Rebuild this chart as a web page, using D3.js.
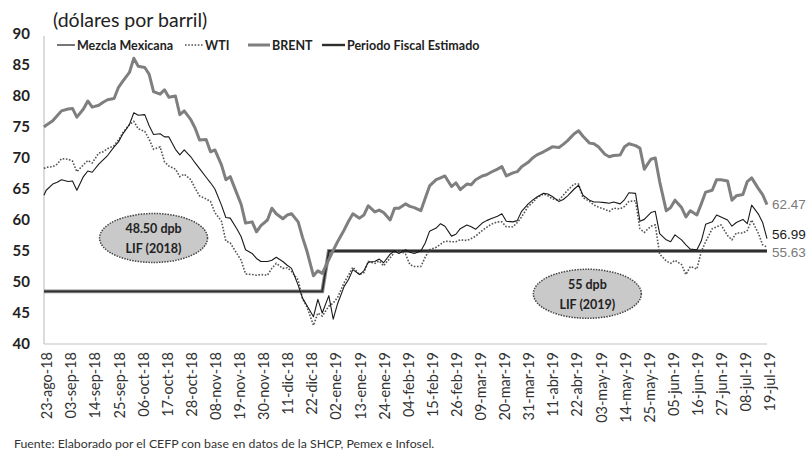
<!DOCTYPE html>
<html>
<head>
<meta charset="utf-8">
<script src="https://cdn.jsdelivr.net/npm/d3@7"></script>
<style>
  body { margin: 0; background: #fff; }
  text { font-family: Lato, "Open Sans", sans-serif; }
</style>
</head>
<body>
<div id="chart"></div>
<script>
var width = 807;
var height = 455;

// fechas (lun/mie/vie) y precios en dolares por barril
var dates = [
  "2018-08-23","2018-08-24","2018-08-27","2018-08-29","2018-08-31",
  "2018-09-03","2018-09-05","2018-09-07","2018-09-10","2018-09-12","2018-09-14","2018-09-17","2018-09-19","2018-09-21","2018-09-24","2018-09-26","2018-09-28",
  "2018-10-01","2018-10-03","2018-10-05","2018-10-08","2018-10-10","2018-10-12","2018-10-15","2018-10-17","2018-10-19","2018-10-22","2018-10-24","2018-10-26","2018-10-29","2018-10-31",
  "2018-11-02","2018-11-05","2018-11-07","2018-11-09","2018-11-12","2018-11-14","2018-11-16","2018-11-19","2018-11-21","2018-11-23","2018-11-26","2018-11-28","2018-11-30",
  "2018-12-03","2018-12-05","2018-12-07","2018-12-10","2018-12-12","2018-12-14","2018-12-17","2018-12-19","2018-12-21","2018-12-24","2018-12-26","2018-12-28","2018-12-31",
  "2019-01-02","2019-01-04","2019-01-07","2019-01-09","2019-01-11","2019-01-14","2019-01-16","2019-01-18","2019-01-21","2019-01-23","2019-01-25","2019-01-28","2019-01-30",
  "2019-02-01","2019-02-04","2019-02-06","2019-02-08","2019-02-11","2019-02-13","2019-02-15","2019-02-18","2019-02-20","2019-02-22","2019-02-25","2019-02-27",
  "2019-03-01","2019-03-04","2019-03-06","2019-03-08","2019-03-11","2019-03-13","2019-03-15","2019-03-18","2019-03-20","2019-03-22","2019-03-25","2019-03-27","2019-03-29",
  "2019-04-01","2019-04-03","2019-04-05","2019-04-08","2019-04-10","2019-04-12","2019-04-15","2019-04-17","2019-04-19","2019-04-22","2019-04-24","2019-04-26","2019-04-29",
  "2019-05-01","2019-05-03","2019-05-06","2019-05-08","2019-05-10","2019-05-13","2019-05-15","2019-05-17","2019-05-20","2019-05-22","2019-05-24","2019-05-27","2019-05-29","2019-05-31",
  "2019-06-03","2019-06-05","2019-06-07","2019-06-10","2019-06-12","2019-06-14","2019-06-17","2019-06-19","2019-06-21","2019-06-24","2019-06-26","2019-06-28",
  "2019-07-01","2019-07-03","2019-07-05","2019-07-08","2019-07-10","2019-07-12","2019-07-15","2019-07-17","2019-07-19"
];

var mezcla = [
  64.0, 64.8, 65.8, 66.1, 66.5,
  66.2, 66.3, 64.8, 67.0, 67.9, 67.7, 69.0, 69.7, 70.4, 71.8, 72.6, 73.9,
  75.4, 77.3, 76.9, 77.0, 75.2, 73.8, 73.9, 73.4, 73.4, 71.4, 70.5, 71.3, 70.2, 69.2,
  68.3, 66.9, 66.0, 65.0, 62.4, 60.4, 60.3, 58.6, 57.3, 55.2, 54.6, 53.8, 53.3,
  53.3, 53.5, 54.0, 53.3, 52.7, 52.2, 49.5, 47.4, 46.2, 44.4, 47.2, 45.0, 47.8,
  44.0, 46.5, 49.3, 50.4, 52.0, 51.2, 51.8, 53.2, 53.3, 53.7, 53.1, 54.5, 55.0,
  54.6, 55.2, 54.8, 54.6, 55.0, 56.3, 58.2, 58.7, 59.4, 59.0, 57.4, 57.7,
  58.6, 59.2, 58.9, 58.5, 59.5, 59.9, 60.2, 60.6, 61.0, 59.8, 59.7, 59.9, 61.4,
  62.6, 63.2, 63.7, 64.3, 64.2, 63.8, 63.0, 63.3, 63.9, 65.0, 65.6, 64.0, 63.2,
  62.9, 62.9, 62.8, 62.7, 62.9, 62.6, 63.3, 64.4, 64.3, 59.8, 60.1, 61.2, 61.4, 57.8,
  56.8, 56.5, 57.6, 56.8, 56.0, 55.3, 55.2, 56.6, 59.3, 59.7, 60.8, 60.5,
  60.0, 59.0, 59.6, 60.1, 59.4, 62.4, 61.0, 59.6, 56.99
];

var wti = [
  68.3, 68.5, 68.6, 69.0, 69.9,
  69.8, 69.5, 67.8, 68.9, 69.6, 69.2, 70.8, 71.0, 71.5, 72.0, 72.9, 74.1,
  75.4, 75.9, 74.7, 74.3, 73.0, 71.4, 71.8, 69.4, 68.7, 68.2, 67.0, 67.4, 66.5, 65.1,
  63.9, 63.4, 63.0, 61.2, 59.8, 56.6, 56.3, 54.6, 53.5, 51.3, 51.2, 51.1, 51.2,
  51.1, 52.2, 53.0, 52.2, 52.3, 51.7, 50.3, 47.3, 46.0, 43.0, 45.0, 44.5, 46.1,
  46.6, 47.5, 49.9, 51.1, 52.4, 51.2, 51.5, 53.3, 53.0, 53.4, 52.6, 53.9, 54.8,
  55.1, 54.5, 52.8, 52.5, 52.5, 54.0, 55.2, 55.6, 56.1, 56.6, 56.5, 56.5,
  56.8, 56.7, 57.0, 57.4, 58.3, 58.8, 59.3, 59.7, 59.7, 58.9, 58.9, 59.6, 60.5,
  62.2, 62.8, 63.6, 64.2, 63.9, 63.4, 63.2, 64.0, 64.8, 65.8, 65.8, 63.6, 63.0,
  62.4, 62.1, 61.7, 61.4, 61.9, 61.8, 62.2, 63.0, 63.1, 58.6, 58.0, 59.0, 59.2, 54.5,
  53.4, 53.0, 53.5, 52.8, 51.2, 52.5, 52.1, 54.9, 56.5, 58.6, 58.9, 59.2,
  57.5, 56.8, 57.9, 57.9, 58.3, 60.0, 57.9, 56.0, 55.63
];

var brent = [
  75.0, 75.3, 76.0, 76.8, 77.6,
  77.9, 78.0, 76.6, 77.9, 79.2, 78.2, 78.5, 79.0, 79.4, 79.6, 81.4, 82.4,
  83.8, 86.1, 84.8, 84.6, 83.5, 80.7, 80.3, 81.0, 79.8, 80.0, 77.0, 77.6, 76.2, 74.8,
  72.9, 73.0, 71.0, 71.3, 68.9, 66.5, 67.0, 64.3, 62.5, 59.5, 59.7, 58.1, 59.1,
  60.0, 61.9, 61.0, 60.2, 60.8, 61.0, 59.7, 57.2, 55.0, 51.0, 51.8, 51.4, 53.6,
  55.1, 56.5, 58.4, 59.8, 61.0, 60.3, 60.8, 62.3, 61.3, 61.6, 61.2, 60.0, 61.9,
  61.9, 62.6, 62.2, 62.0, 61.5, 63.5, 65.5, 66.5, 66.8, 67.1, 65.4, 66.0,
  64.9, 65.8, 65.7, 66.5, 67.1, 67.3, 67.7, 68.2, 68.6, 67.1, 67.6, 67.8, 68.6,
  69.3, 70.0, 70.5, 71.0, 71.4, 71.8, 71.7, 72.2, 72.8, 73.9, 74.4, 73.5, 72.4,
  72.3, 71.8, 70.6, 70.2, 70.4, 70.5, 71.8, 72.3, 72.0, 71.6, 68.2, 69.8, 70.0, 66.2,
  61.5, 62.0, 63.2, 62.0, 60.5, 61.5, 60.8, 62.6, 64.5, 64.8, 66.5, 66.5,
  66.3, 63.2, 63.9, 64.1, 66.2, 66.8, 65.1, 64.1, 62.47
];

// precio fiscal estimado (LIF 2018 y LIF 2019)
var fiscalDates = ["2018-08-23", "2018-12-28", "2018-12-31", "2019-07-19"];
var fiscalValues = [48.5, 48.5, 55, 55];

var tickLabels = [
  "23-ago-18","03-sep-18","14-sep-18","25-sep-18","06-oct-18","17-oct-18","28-oct-18","08-nov-18",
  "19-nov-18","30-nov-18","11-dic-18","22-dic-18","02-ene-19","13-ene-19","24-ene-19","04-feb-19",
  "15-feb-19","26-feb-19","09-mar-19","20-mar-19","31-mar-19","11-abr-19","22-abr-19","03-may-19",
  "14-may-19","25-may-19","05-jun-19","16-jun-19","27-jun-19","08-jul-19","19-jul-19"
];
var yTicks = [40, 45, 50, 55, 60, 65, 70, 75, 80, 85, 90];

var legendNames = ["Mezcla Mexicana", "WTI", "BRENT", "Periodo Fiscal Estimado"];

var notes = [
  { date: "2018-10-12", value: 57.1, lines: ["48.50 dpb", "LIF (2018)"] },
  { date: "2019-04-28", value: 48.1, lines: ["55 dpb", "LIF (2019)"] }
];

var parseDate = d3.timeParse("%Y-%m-%d");
var meses = { ene: 0, feb: 1, mar: 2, abr: 3, may: 4, jun: 5, jul: 6, ago: 7, sep: 8, oct: 9, nov: 10, dic: 11 };
function parseLabel(s) {
  var p = s.split("-");
  return new Date(2000 + (+p[2]), meses[p[1]], +p[0]);
}

var x = d3.scaleTime()
  .domain([parseDate(dates[0]), parseDate(dates[dates.length - 1])])
  .range([44, 767]);
var y = d3.scaleLinear().domain([40, 90]).range([344, 34]);

var svg = d3.select("#chart").append("svg")
  .attr("width", width)
  .attr("height", height);

// ejes
svg.append("line")
  .attr("x1", 44).attr("x2", 44).attr("y1", 36).attr("y2", y(40))
  .attr("stroke", "#c4c4c4").attr("stroke-width", 1.2);
svg.append("line")
  .attr("x1", 44).attr("x2", 767).attr("y1", y(40)).attr("y2", y(40))
  .attr("stroke", "#c4c4c4").attr("stroke-width", 1.2);

svg.selectAll(".ytick").data(yTicks).enter().append("text")
  .attr("x", 30)
  .attr("y", function(d) { return y(d); })
  .attr("dy", "0.36em")
  .attr("text-anchor", "end")
  .style("font-size", "15px")
  .style("font-weight", "bold")
  .attr("fill", "#222")
  .text(function(d) { return d; });

svg.selectAll(".xtick").data(tickLabels).enter().append("text")
  .attr("transform", function(d) { return "translate(" + (x(parseLabel(d)) + 3) + ",352) rotate(-90)"; })
  .attr("dy", "0.36em")
  .attr("text-anchor", "end")
  .style("font-size", "14.5px")
  .attr("fill", "#333")
  .text(function(d) { return d; });

// lineas
var line = d3.line()
  .x(function(d) { return x(d.date); })
  .y(function(d) { return y(d.value); });

function toSeries(ds, vs) {
  return ds.map(function(d, i) { return { date: parseDate(d), value: vs[i] }; });
}

svg.append("path")
  .datum(toSeries(fiscalDates, fiscalValues))
  .attr("d", line)
  .attr("fill", "none")
  .attr("stroke", "#8a8a8a")
  .attr("stroke-width", 3.8);
svg.append("path")
  .datum(toSeries(fiscalDates, fiscalValues))
  .attr("d", line)
  .attr("fill", "none")
  .attr("stroke", "#2e2e2e")
  .attr("stroke-width", 1.8);

svg.append("path")
  .datum(toSeries(dates, brent))
  .attr("d", line)
  .attr("fill", "none")
  .attr("stroke", "#7f7f7f")
  .attr("stroke-width", 3)
  .attr("stroke-linejoin", "round");

svg.append("path")
  .datum(toSeries(dates, wti))
  .attr("d", line)
  .attr("fill", "none")
  .attr("stroke", "#555")
  .attr("stroke-width", 1.6)
  .attr("stroke-dasharray", "1.6,1.6");

svg.append("path")
  .datum(toSeries(dates, mezcla))
  .attr("d", line)
  .attr("fill", "none")
  .attr("stroke", "#1a1a1a")
  .attr("stroke-width", 1.1)
  .attr("stroke-linejoin", "round");

// etiquetas de cierre
var lastDate = parseDate(dates[dates.length - 1]);
var endLabels = [
  { value: brent[brent.length - 1], dy: -1, color: "#7a7a7a" },
  { value: mezcla[mezcla.length - 1], dy: -5, color: "#1a1a1a" },
  { value: wti[wti.length - 1], dy: 5, color: "#7a7a7a" }
];
svg.selectAll(".endlab").data(endLabels).enter().append("text")
  .attr("x", x(lastDate) + 5)
  .attr("y", function(d) { return y(d.value) + d.dy; })
  .attr("dy", "0.36em")
  .style("font-family", "'Liberation Sans', Arial, sans-serif")
  .style("font-size", "13.5px")
  .attr("fill", function(d) { return d.color; })
  .text(function(d) { return d3.format(".2f")(d.value); });

// notas LIF
var note = svg.selectAll(".note").data(notes).enter().append("g")
  .attr("transform", function(d) { return "translate(" + x(parseDate(d.date)) + "," + y(d.value) + ")"; });
note.append("ellipse")
  .attr("rx", 54).attr("ry", 24.5)
  .attr("fill", "#c9c9c9")
  .attr("stroke", "#444")
  .attr("stroke-width", 1.5)
  .attr("stroke-dasharray", "1.5,1.2");
note.append("text")
  .attr("text-anchor", "middle")
  .attr("y", -5)
  .style("font-size", "12.5px")
  .style("font-weight", "bold")
  .attr("fill", "#222")
  .text(function(d) { return d.lines[0]; });
note.append("text")
  .attr("text-anchor", "middle")
  .attr("y", 15)
  .style("font-size", "12.5px")
  .style("font-weight", "bold")
  .attr("fill", "#222")
  .text(function(d) { return d.lines[1]; });

// titulo
svg.append("text")
  .attr("x", 53).attr("y", 27)
  .style("font-size", "19.5px")
  .attr("fill", "#222")
  .text("(dólares por barril)");

// leyenda
var legendX = [57, 185, 248, 322];
var legendStyles = [
  { stroke: "#1a1a1a", w: 1.2, dash: null, len: 18 },
  { stroke: "#555", w: 1.6, dash: "1.6,1.6", len: 18 },
  { stroke: "#7f7f7f", w: 3, dash: null, len: 22 },
  { stroke: "#2e2e2e", w: 2.4, dash: null, len: 23 }
];
var leg = svg.selectAll(".leg").data(legendNames).enter().append("g")
  .attr("transform", function(d, i) { return "translate(" + legendX[i] + ",45)"; });
leg.append("line")
  .attr("x1", 0).attr("x2", function(d, i) { return legendStyles[i].len; })
  .attr("stroke", function(d, i) { return legendStyles[i].stroke; })
  .attr("stroke-width", function(d, i) { return legendStyles[i].w; })
  .attr("stroke-dasharray", function(d, i) { return legendStyles[i].dash; });
leg.append("text")
  .attr("x", function(d, i) { return legendStyles[i].len + 2; })
  .attr("dy", "0.36em")
  .style("font-size", "12.5px")
  .style("font-weight", "bold")
  .attr("fill", "#222")
  .text(function(d) { return d; });

// fuente
svg.append("text")
  .attr("x", 14).attr("y", 448)
  .style("font-size", "12.3px")
  .attr("fill", "#333")
  .text("Fuente: Elaborado por el CEFP con base en datos de la SHCP, Pemex e Infosel.");
</script>
</body>
</html>
